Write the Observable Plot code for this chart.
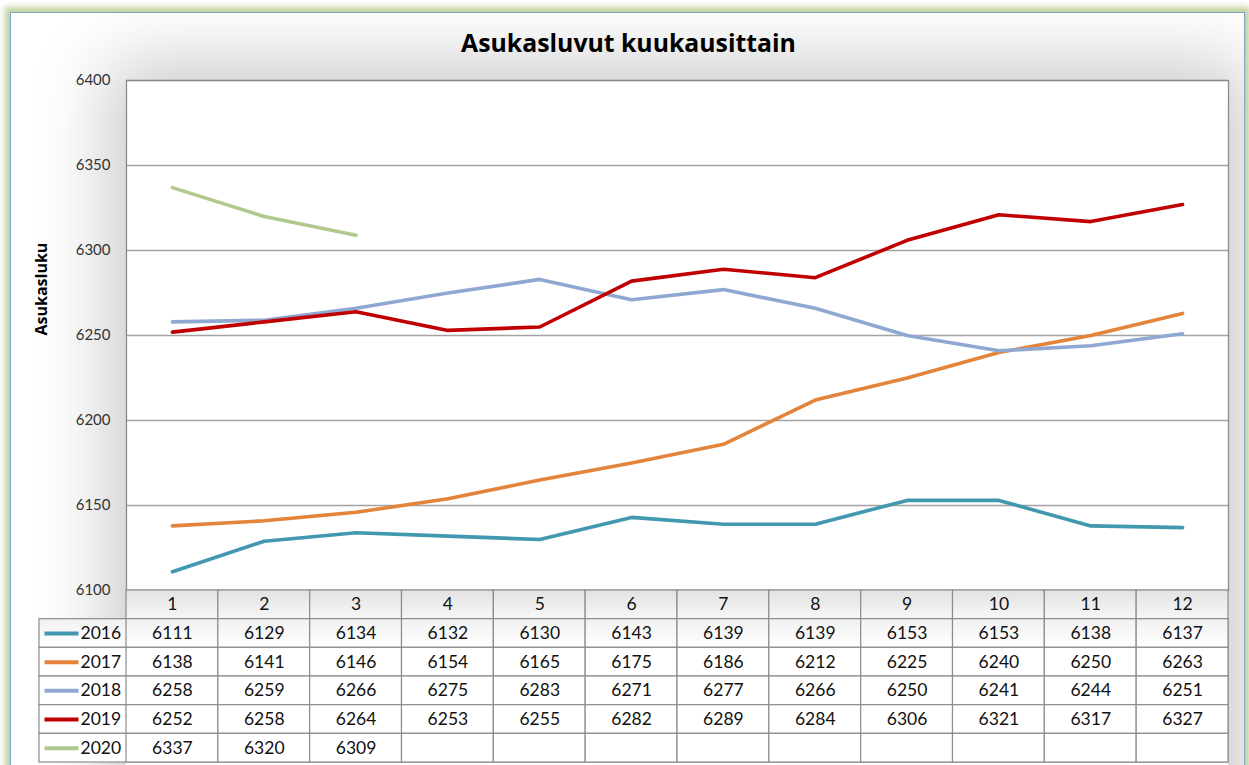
<!DOCTYPE html>
<html>
<head>
<meta charset="utf-8">
<script src="https://cdn.jsdelivr.net/npm/d3@7"></script>
<script src="https://cdn.jsdelivr.net/npm/@observablehq/plot@0.6"></script>
<style>
  html, body { margin: 0; padding: 0; background: #fff; }
  #wrap { position: relative; width: 1249px; height: 765px; overflow: hidden; background: #fff; font-family: Lato, "Open Sans", sans-serif; }
  #frame { position: absolute; left: 10px; top: 12px; width: 1233px; height: 800px; border: 1.5px solid #7ea3cc;
           box-shadow: 0 0 6px 5px rgba(178,198,135,0.8); overflow: hidden; background: #fff; }
  #shade { position: absolute; left: 114.5px; top: 66.5px; width: 1102px; height: 800px; background: #fff;
           box-shadow: 0 0 70px 18px rgba(0,0,0,0.21); }
  #title { position: absolute; left: 0; width: 1257px; top: 25px; text-align: center; font-family: "Open Sans", sans-serif; font-weight: bold; font-size: 24.8px; color: #000; }
  .layer { position: absolute; left: 0; width: 1249px; }
</style>
</head>
<body>
<div id="wrap">
  <div id="frame"><div id="shade"></div></div>
  <div id="title">Asukasluvut kuukausittain</div>
  <div id="chart" class="layer" style="top:0"></div>
  <div id="table" class="layer" style="top:590px"></div>
</div>
<script>
const months = [1,2,3,4,5,6,7,8,9,10,11,12];
const years = ["2016","2017","2018","2019","2020"];
const colors = ["#4198af","#e3843a","#8fa8d2","#c00000","#b0c98e"];
const yTicks = [6100,6150,6200,6250,6300,6350,6400];
const v2016 = [6111,6129,6134,6132,6130,6143,6139,6139,6153,6153,6138,6137];
const v2017 = [6138,6141,6146,6154,6165,6175,6186,6212,6225,6240,6250,6263];
const v2018 = [6258,6259,6266,6275,6283,6271,6277,6266,6250,6241,6244,6251];
const v2019 = [6252,6258,6264,6253,6255,6282,6289,6284,6306,6321,6317,6327];
const v2020 = [6337,6320,6309];

const series = [v2016, v2017, v2018, v2019, v2020];
const rows = [];
series.forEach((vals, i) => vals.forEach((v, j) => rows.push({year: years[i], month: months[j], value: v})));

const tableCells = [];
years.forEach((y, i) => months.forEach((m, j) => {
  const v = series[i][j];
  tableCells.push({year: y, month: m, text: v === undefined ? "" : String(v)});
}));

const font = "Lato, 'Open Sans', sans-serif";

const chart = Plot.plot({
  width: 1249, height: 600,
  marginLeft: 126, marginRight: 21, marginTop: 80, marginBottom: 10,
  style: {background: "transparent", fontFamily: font, fontSize: "15px", color: "#333", overflow: "visible"},
  x: {type: "point", domain: months, padding: 0.5, axis: null, round: false},
  y: {domain: [6100, 6400]},
  color: {domain: years, range: colors},
  marks: [
    Plot.gridY(yTicks, {stroke: "#a3a3a3", strokeOpacity: 1, strokeWidth: 1.3}),
    Plot.axisY(yTicks, {tickSize: 0, tickPadding: 16, label: null, fontSize: 15, fill: "#333", tickFormat: d => String(d)}),
    Plot.frame({stroke: "#8a8a8a", strokeWidth: 1.3}),
    Plot.text(["Asukasluku"], {frameAnchor: "left", dx: -85, rotate: -90, text: d => d, fontFamily: "'Open Sans', sans-serif", fontWeight: "bold", fontSize: 16, fill: "#000"}),
    Plot.line(rows, {x: "month", y: "value", z: "year", stroke: "year", strokeWidth: 3.6, strokeLinejoin: "round", strokeLinecap: "round"})
  ]
});
document.getElementById("chart").appendChild(chart);

const lineSymbol = {draw(ctx) { ctx.moveTo(-17, 0); ctx.lineTo(17, 0); }};

const defs = () => {
  const d = d3.create("svg:defs");
  const g1 = d.append("linearGradient").attr("id", "hdr").attr("x1", 0).attr("y1", 0).attr("x2", 0).attr("y2", 1);
  g1.append("stop").attr("offset", "0%").attr("stop-color", "#e2e2e2");
  g1.append("stop").attr("offset", "100%").attr("stop-color", "#f7f7f7");
  const g2 = d.append("linearGradient").attr("id", "r1").attr("x1", 0).attr("y1", 0).attr("x2", 0).attr("y2", 1);
  g2.append("stop").attr("offset", "0%").attr("stop-color", "#f1f1f1");
  g2.append("stop").attr("offset", "100%").attr("stop-color", "#ffffff");
  return d.node();
};

const table = Plot.plot({
  width: 1249, height: 175,
  marginLeft: 39, marginRight: 21, marginTop: 0, marginBottom: 3,
  style: {background: "transparent", fontFamily: font, fontSize: "17.5px", color: "#111", overflow: "visible"},
  x: {type: "band", domain: months, range: [126, 1228], padding: 0, round: false, axis: null},
  y: {type: "band", domain: ["header", ...years], padding: 0, round: false, axis: null},
  color: {domain: years, range: colors},
  marks: [
    defs,
    Plot.cell(years, {y: d => d, fill: d => d === "2016" ? "url(#r1)" : "#fff", stroke: "#8c8c8c", strokeWidth: 1.2, inset: 0}),
    Plot.cell(months, {x: d => d, y: () => "header", fill: "url(#hdr)", stroke: "#8c8c8c", strokeWidth: 1.2, inset: 0}),
    Plot.cell(tableCells, {x: "month", y: "year", fill: d => d.year === "2016" ? "url(#r1)" : "#fff", stroke: "#8c8c8c", strokeWidth: 1.2, inset: 0}),
    Plot.text(months, {x: d => d, y: () => "header", text: d => String(d), fill: "#111", fontSize: 17.5}),
    Plot.text(tableCells, {x: "month", y: "year", text: "text", fill: "#111", fontSize: 17.5}),
    Plot.dot(years, {y: d => d, frameAnchor: "left", dx: 22, symbol: lineSymbol, stroke: d => d, strokeWidth: 4, r: 5}),
    Plot.text(years, {y: d => d, frameAnchor: "left", dx: 41, textAnchor: "start", text: d => d, fill: "#111", fontSize: 17.5})
  ]
});
document.getElementById("table").appendChild(table);
</script>
</body>
</html>
